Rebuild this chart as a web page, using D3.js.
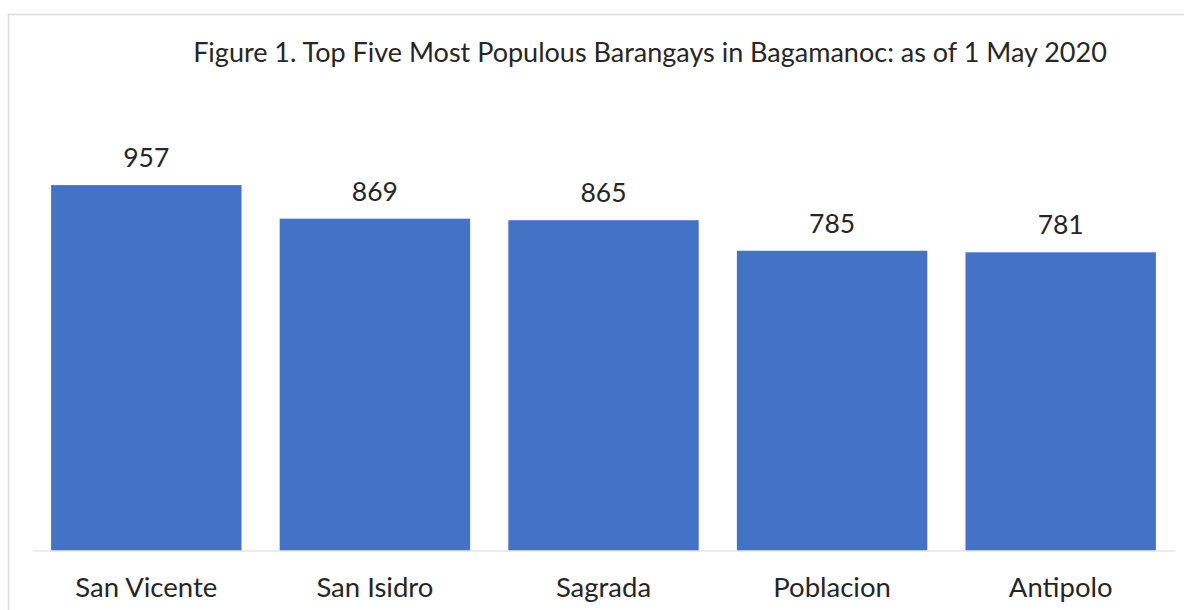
<!DOCTYPE html>
<html>
<head>
<meta charset="utf-8">
<script src="https://cdn.jsdelivr.net/npm/d3@7"></script>
<style>
  html, body { margin: 0; padding: 0; background: #fff; }
  svg { display: block; }
  text { font-family: Lato, "Open Sans", sans-serif; fill: #262626; }
</style>
</head>
<body>
<svg id="chart" width="1184" height="610"></svg>
<script>
const categories = ["San Vicente", "San Isidro", "Sagrada", "Poblacion", "Antipolo"];
const values = [957, 869, 865, 785, 781];
const title = "Figure 1. Top Five Most Populous Barangays in Bagamanoc: as of 1 May 2020";

const W = 1184, H = 610;
const svg = d3.select("#chart");

// chart frame
svg.append("line").attr("x1", 8.5).attr("x2", 8.5).attr("y1", 14).attr("y2", H)
  .attr("stroke", "#d9d9d9").attr("stroke-width", 1.5);
svg.append("line").attr("x1", 8).attr("x2", W).attr("y1", 14.5).attr("y2", 14.5)
  .attr("stroke", "#d9d9d9").attr("stroke-width", 1.5);

const plot = { left: 32, right: 1175, top: 92.3, bottom: 550.5 };

const x = d3.scaleBand().domain(categories).range([plot.left, plot.right])
  .paddingInner(0.167).paddingOuter(0.0835);
const y = d3.scaleLinear().domain([0, 1200]).range([plot.bottom, plot.top]);

const data = categories.map((c, i) => ({ c, v: values[i] }));

svg.append("g").selectAll("rect").data(data).join("rect")
  .attr("x", d => x(d.c)).attr("width", x.bandwidth())
  .attr("y", d => y(d.v)).attr("height", d => y(0) - y(d.v))
  .attr("fill", "#4472C4");

// baseline axis
const xAxis = svg.append("g").attr("transform", `translate(0,${plot.bottom})`)
  .call(d3.axisBottom(x).tickSize(0).tickPadding(0));
xAxis.select(".domain").attr("stroke", "#d9d9d9").attr("stroke-width", 1.2);
xAxis.selectAll(".tick text").remove();

svg.append("g").selectAll("text").data(categories).join("text")
  .attr("x", d => x(d) + x.bandwidth() / 2).attr("y", 596.5)
  .attr("text-anchor", "middle").attr("font-size", 27.5).text(d => d);

svg.append("g").selectAll("text").data(data).join("text")
  .attr("x", d => x(d.c) + x.bandwidth() / 2).attr("y", d => y(d.v) - 18)
  .attr("text-anchor", "middle").attr("font-size", 26.5).text(d => d.v);

svg.append("text").attr("x", 650).attr("y", 61.5).attr("text-anchor", "middle")
  .attr("font-size", 27).text(title);
</script>
</body>
</html>
